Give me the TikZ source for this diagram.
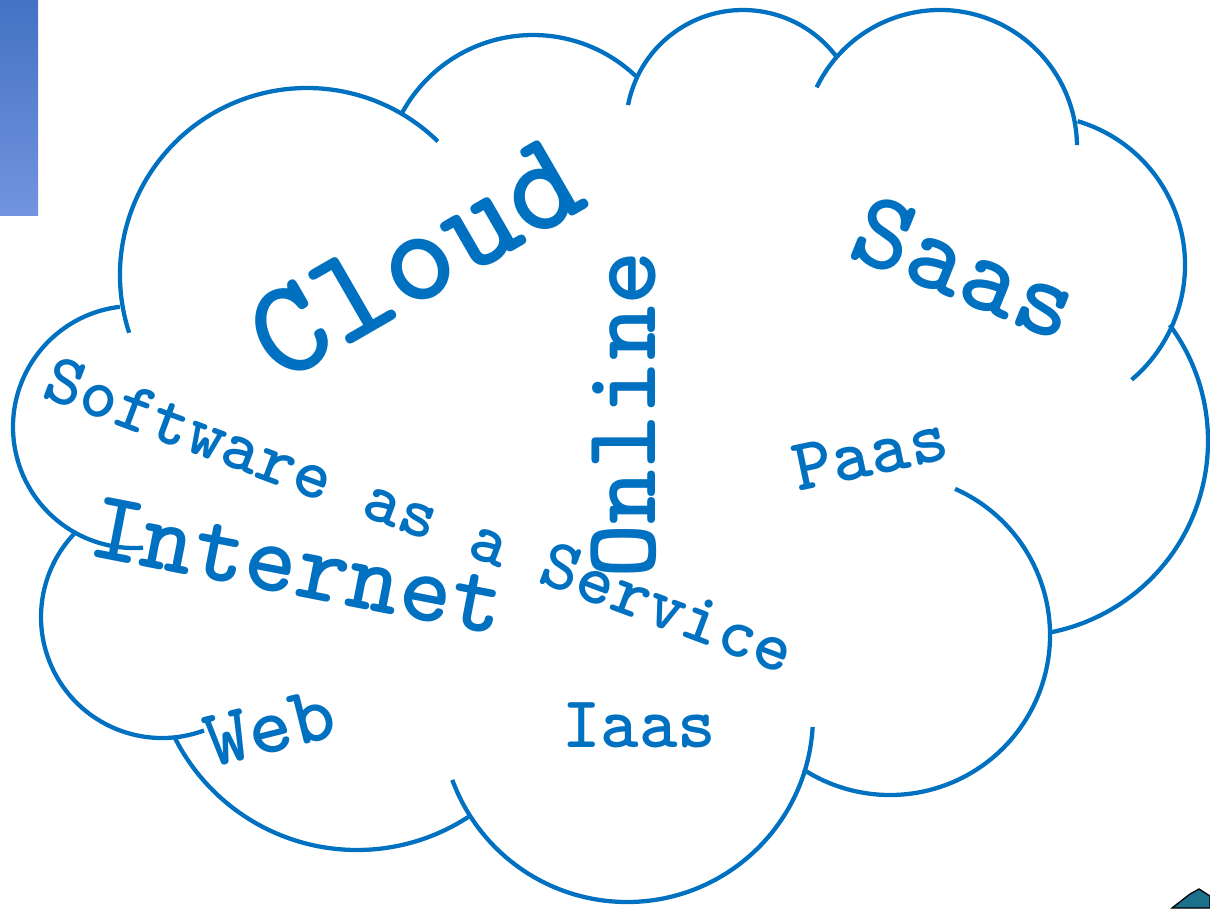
\documentclass[tikz,border=0pt]{standalone}
\usepackage{fontspec}
\definecolor{cloudblue}{RGB}{0,112,192}
\definecolor{bartop}{RGB}{68,114,196}
\definecolor{barbottom}{RGB}{114,148,222}
\definecolor{peakteal}{RGB}{28,112,140}

\tikzset{
  lobe/.style={draw=cloudblue, line width=3.2pt},
  word/.style={text=cloudblue, inner sep=0pt,
    font=\ttfamily\bfseries\fontsize{#1}{#1}\selectfont},
}

\begin{document}
\begin{tikzpicture}[x=0.75pt, y=-0.75pt]
    \useasboundingbox (0,0) rectangle (1210,908);
    % side bar and corner %
    \shade[top color=bartop, bottom color=barbottom] (0,0) rectangle (38,215);
    \filldraw[fill=peakteal, draw=black, line width=1pt]
      (1172,908) -- (1190,894) -- (1199,889) -- (1210,896) -- (1210,908) -- cycle;
    % lobes %
    \draw[lobe] (307,275) ++(162:187) arc[start angle=162, end angle=314.4, radius=187];
    \draw[lobe] (533,184) ++(208.5:149) arc[start angle=208.5, end angle=313.6, radius=149];
    \draw[lobe] (743,127) ++(190.8:117) arc[start angle=190.8, end angle=324, radius=117];
    \draw[lobe] (940,147) ++(205.8:137) arc[start angle=205.8, end angle=359.2, radius=137];
    \draw[lobe] (1035,265) ++(286.5:150) arc[start angle=286.5, end angle=409.9, radius=150];
    \draw[lobe] (1013,441) ++(323.5:195) arc[start angle=323.5, end angle=439, radius=195];
    \draw[lobe] (890,635) ++(294:160) arc[start angle=294, end angle=482.8, radius=160];
    \draw[lobe] (627,716) ++(3.4:186) arc[start angle=3.4, end angle=159.9, radius=186];
    \draw[lobe] (357,646) ++(56.5:204) arc[start angle=56.5, end angle=153.2, radius=204];
    \draw[lobe] (162,617) ++(69.7:121) arc[start angle=69.7, end angle=223.4, radius=121];
    \draw[lobe] (134,427) ++(263.3:121) arc[start angle=263.3, end angle=85.7, radius=121];
    % words %
    \node[word=103pt, rotate=30] (cloud) at (415,259) {Cloud};
    \node[word=83pt, rotate=-22] (saas) at (966,268) {Saas};
    \node[word=78pt, rotate=90] (online) at (624,415) {Online};
    \node[word=54pt, rotate=-20.5] (software) at (420,515) {Software as a Service};
    \node[word=75pt, rotate=-11] (internet) at (298,566) {Internet};
    \node[word=56pt, rotate=12] (paas) at (870,453) {Paas};
    \node[word=55pt] (iaas) at (639,725) {Iaas};
    \node[word=62pt, rotate=14] (web) at (270,728) {Web};
\end{tikzpicture}
\end{document}
